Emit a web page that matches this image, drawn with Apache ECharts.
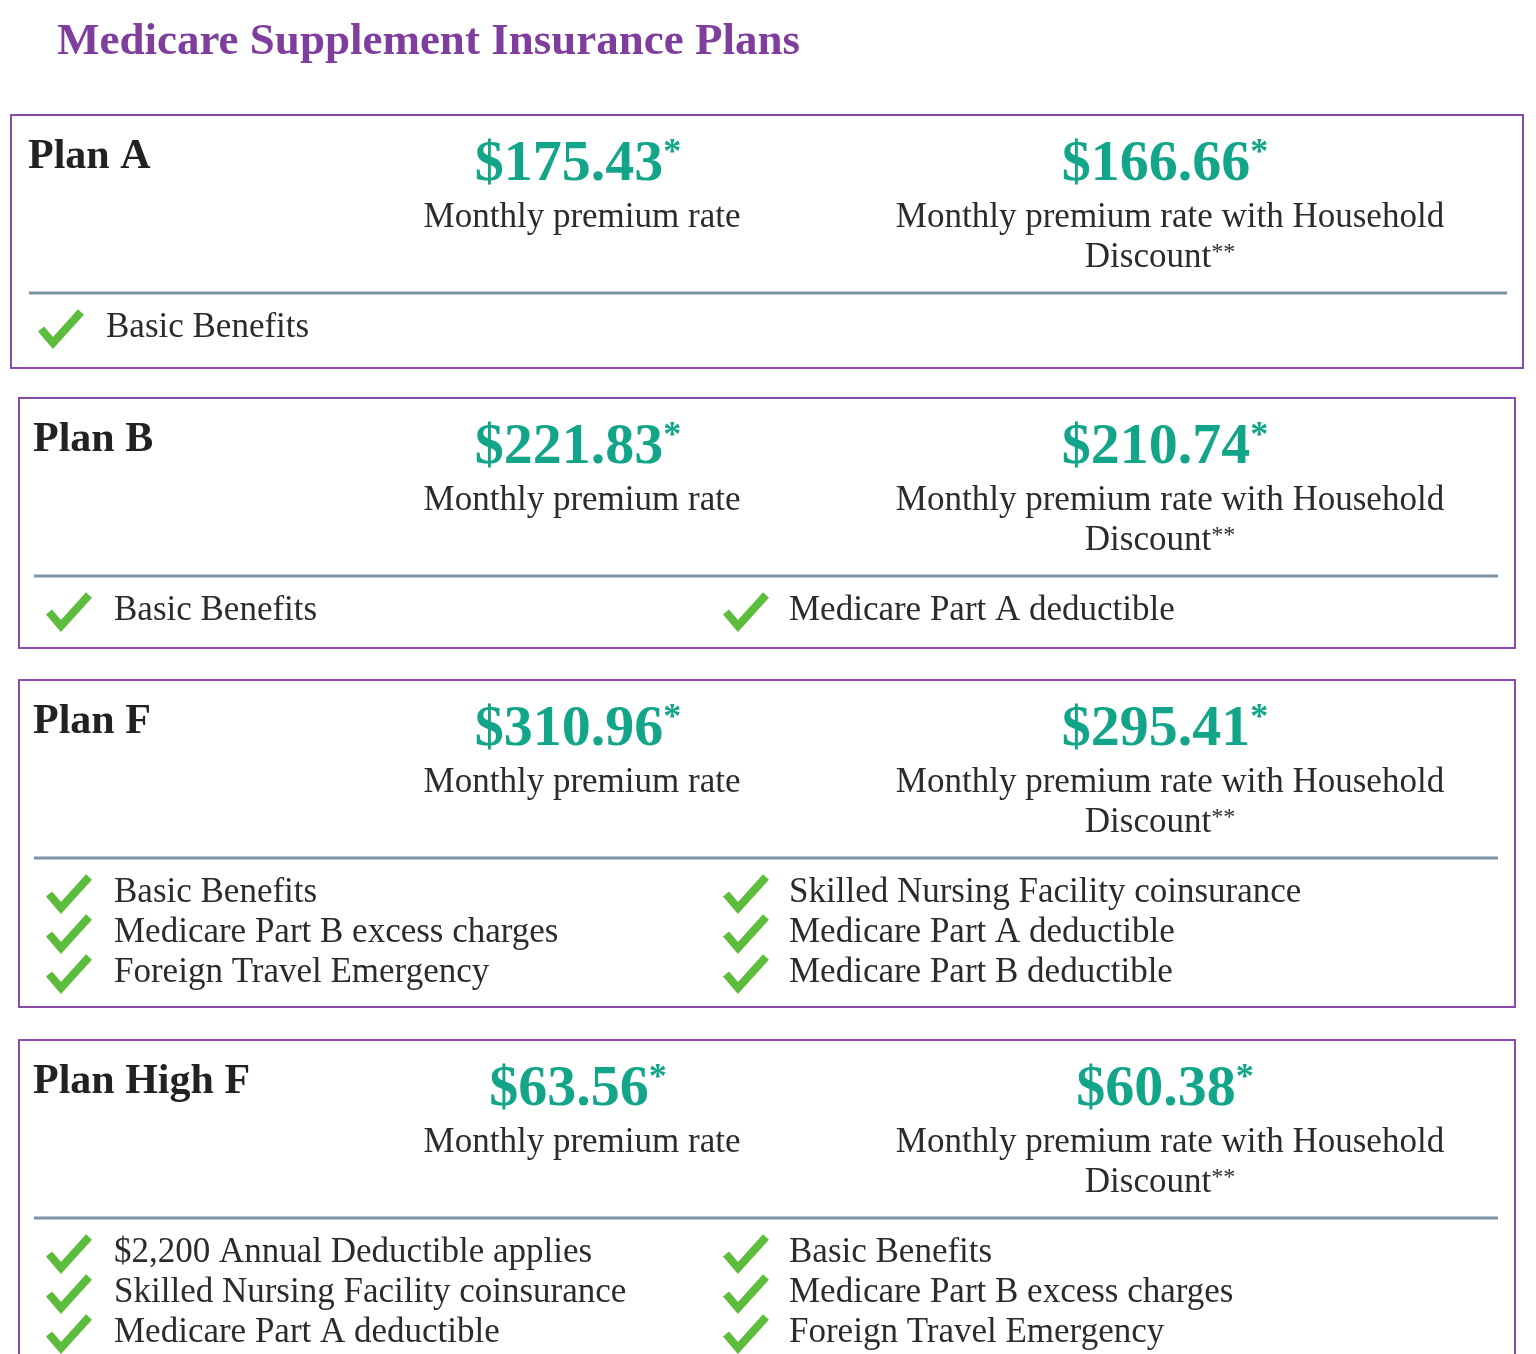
<!DOCTYPE html>
<html><head><meta charset="utf-8">
<script src="https://cdn.jsdelivr.net/npm/echarts@6/dist/echarts.min.js"></script>
<style>html,body{margin:0;padding:0;background:#fff}#c{width:1536px;height:1354px}</style>
</head><body><div id="c"></div>
<script>
const title = "Medicare Supplement Insurance Plans";
const plans = ["Plan A", "Plan B", "Plan F", "Plan High F"];
const monthlyRates = ["$175.43", "$221.83", "$310.96", "$63.56"];
const discountRates = ["$166.66", "$210.74", "$295.41", "$60.38"];
const leftBenefits = [
  ["Basic Benefits"],
  ["Basic Benefits"],
  ["Basic Benefits", "Medicare Part B excess charges", "Foreign Travel Emergency"],
  ["$2,200 Annual Deductible applies", "Skilled Nursing Facility coinsurance", "Medicare Part A deductible"]
];
const rightBenefits = [
  [],
  ["Medicare Part A deductible"],
  ["Skilled Nursing Facility coinsurance", "Medicare Part A deductible", "Medicare Part B deductible"],
  ["Basic Benefits", "Medicare Part B excess charges", "Foreign Travel Emergency"]
];

const boxes = [
  {x:11, y:115, w:1512, h:253, lx:29, rx:1507},
  {x:19, y:398, w:1496, h:250, lx:34, rx:1498},
  {x:19, y:680, w:1496, h:327, lx:34, rx:1498},
  {x:19, y:1040, w:1496, h:340, lx:34, rx:1498}
];
const FONT = '"Liberation Serif", "Times New Roman", serif';
const teal = '#13a58a', purple = '#8a4aa8', green = '#5cbd3c', dark = '#2b2b2b';

const els = [];
els.push({type:'text', left:57, top:20, style:{text:title, font:'bold 45px ' + FONT, fill:'#7f3d9e'}});

function check(x, y) {
  els.push({type:'polyline', shape:{points:[[x,y],[x+12,y+14],[x+40,y-17]]},
    style:{stroke:green, lineWidth:8, fill:null, lineCap:'butt', lineJoin:'miter'}});
}
function price(cx, cy, val) {
  els.push({type:'text', x:cx, y:cy, style:{
    text:'{p|' + val + '}{s|*}', align:'center', verticalAlign:'middle',
    rich:{p:{font:'bold 58px ' + FONT, fill:teal}, s:{font:'bold 36px ' + FONT, fill:teal, verticalAlign:'top'}}
  }});
}
function txt(x, y, s, align, size) {
  els.push({type:'text', x:x, y:y, style:{text:s, font:(size||35) + 'px ' + FONT, fill:dark, align:align||'left', verticalAlign:'middle'}});
}

plans.forEach((p, i) => {
  const b = boxes[i], T = b.y, sh = (i === 0 ? -6 : 0);
  els.push({type:'rect', shape:{x:b.x, y:b.y, width:b.w, height:b.h},
    style:{fill:'#fff', stroke:purple, lineWidth:2}});
  els.push({type:'text', x:b.lx - 1 + (i === 0 ? 0 : 0), y:T + 42, style:{text:p, font:'bold 42px ' + FONT, fill:'#222', verticalAlign:'middle'}});
  price(578, T + 50 + (i === 3 ? 0 : 0), monthlyRates[i]);
  price(1165, T + 50, discountRates[i]);
  txt(582, T + 103, 'Monthly premium rate', 'center');
  txt(1170, T + 103, 'Monthly premium rate with Household', 'center');
  els.push({type:'text', x:1160, y:T + 143, style:{
    text:'{a|Discount}{s|**}', align:'center', verticalAlign:'middle',
    rich:{a:{font:'35px ' + FONT, fill:dark}, s:{font:'24px ' + FONT, fill:dark, verticalAlign:'top'}}}});
  els.push({type:'line', shape:{x1:b.lx, y1:T + 178, x2:b.rx, y2:T + 178},
    style:{stroke:'#7c93a6', lineWidth:3}});
  const off = i === 0 ? -8 : 0;
  leftBenefits[i].forEach((s, k) => {
    const y = T + 214 + k * 40;
    check(49 + off, y);
    txt(114 + off, y - 1, s);
  });
  rightBenefits[i].forEach((s, k) => {
    const y = T + 214 + k * 40;
    check(726, y);
    txt(789, y - 1, s);
  });
});

const chart = echarts.init(document.getElementById('c'), null, {renderer:'canvas'});
chart.setOption({animation:false, graphic:{elements:els}});
</script></body></html>
